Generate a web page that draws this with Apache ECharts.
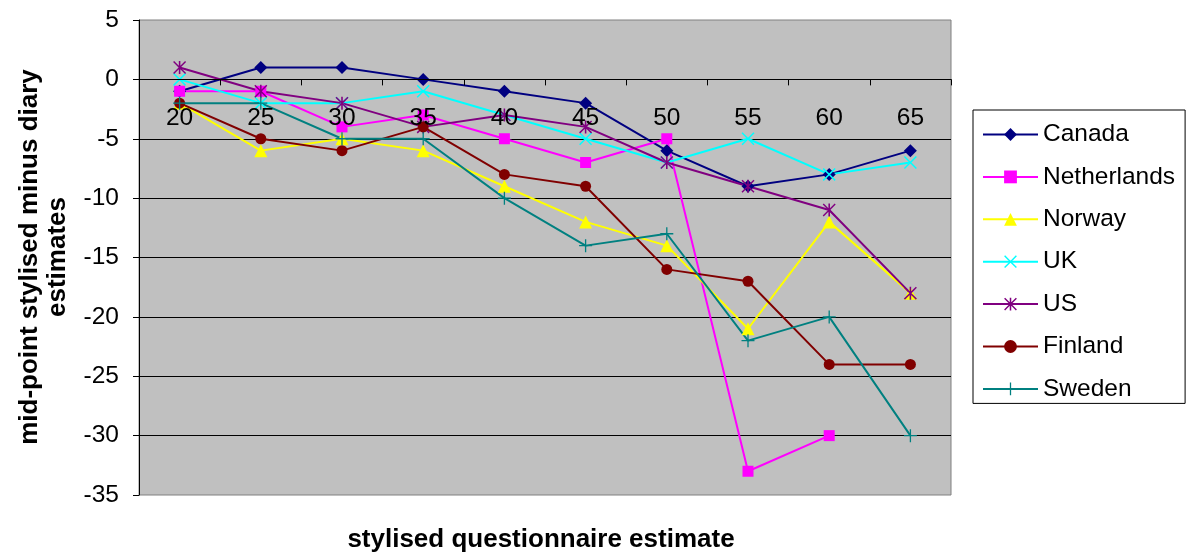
<!DOCTYPE html>
<html>
<head>
<meta charset="utf-8">
<script src="https://cdn.jsdelivr.net/npm/echarts@6/dist/echarts.min.js"></script>
<style>
  html, body { margin: 0; padding: 0; background: #ffffff; }
  #chart { width: 1190px; height: 556px; }
</style>
</head>
<body>
<div id="chart"></div>
<script>
// Stylised questionnaire estimate (hours) on the category axis
const categories = ['20', '25', '30', '35', '40', '45', '50', '55', '60', '65'];

// Mid-point stylised estimate minus diary estimate, per country
const canada      = [-1, 1, 1, 0, -1, -2, -6, -9, -8, -6];
const netherlands = [-1, -1, -4, -3, -5, -7, -5, -33, -30, null];
const norway      = [-2, -6, -5, -6, -9, -12, -14, -21, -12, -18];
const uk          = [0, -2, -2, -1, -3, -5, -7, -5, -8, -7];
const us          = [1, -1, -2, -4, -3, -4, -7, -9, -11, -18];
const finland     = [-2, -5, -6, -4, -8, -9, -16, -17, -24, -24];
const sweden      = [-2, -2, -5, -5, -10, -14, -13, -22, -20, -30];

// Value axis range and step
const yMin = -35, yMax = 5, yStep = 5;

const FONT = 'Liberation Sans, Arial, sans-serif';

// Plot box
const GRID = { left: 139, right: 239, top: 20, bottom: 61 };
const plotHeight = 556 - GRID.top - GRID.bottom;
// The category axis sits on the zero line
const zeroOffset = -plotHeight * (0 - yMin) / (yMax - yMin);

// Marker outlines for the cross-style symbols
const d = 1.6;
const xShape = 'path://M0,' + d + ' L' + d + ',0 L10,' + (10 - d) + ' L' + (20 - d) + ',0 L20,' + d +
  ' L' + (10 + d) + ',10 L20,' + (20 - d) + ' L' + (20 - d) + ',20 L10,' + (10 + d) +
  ' L' + d + ',20 L0,' + (20 - d) + ' L' + (10 - d) + ',10 Z';
const asteriskShape = xShape + ' M8.8,0 L11.2,0 L11.2,20 L8.8,20 Z';
const plusShape = 'path://M9,0 L11,0 L11,9 L20,9 L20,11 L11,11 L11,20 L9,20 L9,11 L0,11 L0,9 L9,9 Z';

function lineSeries(name, data, color, symbol, size) {
  return {
    name: name,
    type: 'line',
    data: data,
    symbol: symbol,
    symbolSize: size,
    showAllSymbol: true,
    connectNulls: false,
    lineStyle: { color: color, width: 2 },
    itemStyle: { color: color, borderWidth: 0 },
    emphasis: { disabled: true },
    animation: false
  };
}

const chart = echarts.init(document.getElementById('chart'), null, { renderer: 'canvas' });

chart.setOption({
  backgroundColor: '#ffffff',
  animation: false,
  textStyle: { fontFamily: FONT },
  grid: {
    left: GRID.left, right: GRID.right, top: GRID.top, bottom: GRID.bottom,
    show: true,
    backgroundColor: '#c0c0c0',
    borderColor: '#808080',
    borderWidth: 1
  },
  legend: {
    orient: 'vertical',
    left: 973,
    top: 110,
    padding: [12, 10, 2, 9],
    itemWidth: 55,
    itemHeight: 16,
    itemGap: 17.4,
    borderColor: '#000000',
    borderWidth: 1,
    backgroundColor: '#ffffff',
    textStyle: { fontFamily: FONT, fontSize: 24.5, color: '#000000', lineHeight: 24 },
    data: ['Canada', 'Netherlands', 'Norway', 'UK', 'US', 'Finland', 'Sweden']
  },
  xAxis: {
    type: 'category',
    data: categories,
    boundaryGap: true,
    position: 'bottom',
    offset: zeroOffset,
    z: 10,
    axisLine: { onZero: false, lineStyle: { color: '#000000', width: 1 } },
    axisTick: { show: true, length: 6, lineStyle: { color: '#000000' } },
    axisLabel: { color: '#000000', fontSize: 24.5, fontFamily: FONT, margin: 26 },
    splitLine: { show: false }
  },
  yAxis: {
    type: 'value',
    min: yMin,
    max: yMax,
    interval: yStep,
    axisLine: { show: true, lineStyle: { color: '#000000', width: 1 } },
    axisTick: { show: true, length: 6, lineStyle: { color: '#000000' } },
    axisLabel: { color: '#000000', fontSize: 24.5, fontFamily: FONT, margin: 20 },
    splitLine: { show: true, showMinLine: false, showMaxLine: false, lineStyle: { color: '#000000', width: 1 } }
  },
  graphic: [
    {
      type: 'text',
      x: 44,
      y: 257,
      rotation: Math.PI / 2,
      style: {
        text: 'mid-point stylised minus diary\nestimates',
        font: 'bold 26px ' + FONT,
        fill: '#000000',
        textAlign: 'center',
        textVerticalAlign: 'middle',
        lineHeight: 28
      }
    },
    {
      type: 'text',
      x: 541,
      y: 540,
      style: {
        text: 'stylised questionnaire estimate',
        font: 'bold 26px ' + FONT,
        fill: '#000000',
        textAlign: 'center',
        textVerticalAlign: 'middle'
      }
    }
  ],
  series: [
    lineSeries('Canada', canada, '#000080', 'diamond', 13),
    lineSeries('Netherlands', netherlands, '#ff00ff', 'rect', 11),
    lineSeries('Norway', norway, '#ffff00', 'triangle', 13),
    lineSeries('UK', uk, '#00ffff', xShape, 13),
    lineSeries('US', us, '#800080', asteriskShape, 13),
    lineSeries('Finland', finland, '#800000', 'circle', 11),
    lineSeries('Sweden', sweden, '#008080', plusShape, 13)
  ]
});
</script>
</body>
</html>
